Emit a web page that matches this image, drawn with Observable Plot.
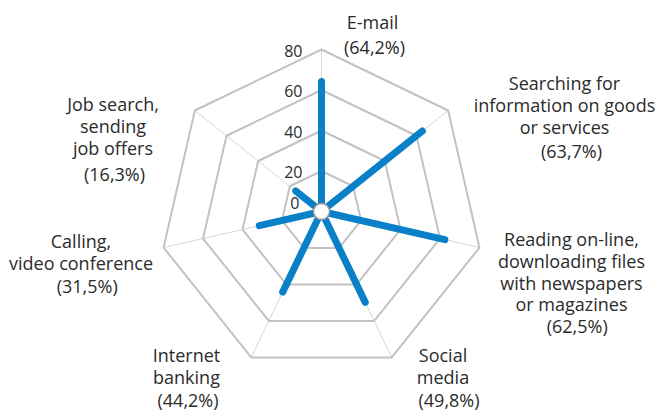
<!DOCTYPE html>
<html><head><meta charset="utf-8">
<script src="https://cdn.jsdelivr.net/npm/d3@7"></script>
<script src="https://cdn.jsdelivr.net/npm/@observablehq/plot@0.6"></script>
<style>body{margin:0;background:#fff} svg{display:block}</style>
</head><body><div id="chart"></div>
<script>
// ---- data ----
const categories = [
  "E-mail",
  "Searching for\ninformation on goods\nor services",
  "Reading on-line,\ndownloading files\nwith newspapers\nor magazines",
  "Social\nmedia",
  "Internet\nbanking",
  "Calling,\nvideo conference",
  "Job search,\nsending\njob offers"
];
const values = [64.2, 63.7, 62.5, 49.8, 44.2, 31.5, 16.3];
const valueLabels = ["(64,2%)", "(63,7%)", "(62,5%)", "(49,8%)", "(44,2%)", "(31,5%)", "(16,3%)"];
const ringValues = [20, 40, 60, 80];
const tickValues = [0, 20, 40, 60, 80];
const tickLabels = ["0", "20", "40", "60", "80"];

// ---- layout ----
const W = 657, H = 411;
const cx = 321, cy = 211, k = 162 / 80;   // px per unit
const namePos = [[372,21],[564,104.6],[571,271],[442.5,365.5],[186,365.5],[80.5,251.7],[112.5,125.3]];
const pctPos  = [[374,48],[571,151.7],[576.7,327],[448.5,401],[187.5,401],[86.7,286.7],[114,175]];
const font = "'Open Sans', 'Noto Sans', sans-serif";
const textColor = "#2b2b2b";
const blue = "#0a80c8";

const n = categories.length;
const ang = i => i * 2 * Math.PI / n;
const px = (r, i) => r * Math.sin(ang(i));
const py = (r, i) => r * Math.cos(ang(i));
const toX = p => (p - cx) / k;
const toY = p => (cy - p) / k;

const idx = d3.range(n);
const ringPts = ringValues.flatMap(r => d3.range(n + 1).map(i => ({r, x: px(r, i % n), y: py(r, i % n)})));
const bars = idx.map(i => ({x1: 0, y1: 0, x2: px(values[i], i), y2: py(values[i], i)}));
const spokes = idx.map(i => ({x1: 0, y1: 0, x2: px(80, i), y2: py(80, i)}));
const ticks = tickValues.map((v, j) => ({v, label: tickLabels[j]}));

const chart = Plot.plot({
  width: W, height: H,
  margin: 0,
  x: {domain: [toX(0), toX(W)], range: [0, W], axis: null},
  y: {domain: [toY(H), toY(0)], range: [H, 0], axis: null},
  style: {fontFamily: font, background: "#fff"},
  marks: [
    Plot.link(spokes, {x1: "x1", y1: "y1", x2: "x2", y2: "y2", stroke: "#d6d6d6", strokeWidth: 1}),
    Plot.line(ringPts, {x: "x", y: "y", z: "r", stroke: "#c2c2c2", strokeWidth: 2, strokeLinejoin: "miter"}),
    Plot.link(bars, {x1: "x1", y1: "y1", x2: "x2", y2: "y2", stroke: blue, strokeWidth: 7, strokeLinecap: "round"}),
    Plot.dot([{x: 0, y: 0}], {x: "x", y: "y", r: 8, fill: "#fff", stroke: "#9a9a9a", strokeWidth: 1.5}),
    Plot.text(ticks.filter(d => d.v > 0), {x: () => 0, y: "v", text: "label", textAnchor: "end", dx: -19, dy: 2, fontSize: 16, fill: textColor}),
    Plot.text(ticks.filter(d => d.v === 0), {x: () => 0, y: "v", text: "label", textAnchor: "end", dx: -22, dy: -8, fontSize: 16, fill: textColor}),
    Plot.text(idx, {x: i => toX(namePos[i][0]), y: i => toY(namePos[i][1]), text: i => categories[i], textAnchor: "middle", lineAnchor: "middle", lineHeight: 1.22, fontSize: 18, fill: textColor}),
    Plot.text(idx, {x: i => toX(pctPos[i][0]), y: i => toY(pctPos[i][1]), text: i => valueLabels[i], textAnchor: "middle", lineAnchor: "middle", fontSize: 18, fill: textColor})
  ]
});
document.getElementById("chart").appendChild(chart);
</script>
</body></html>
